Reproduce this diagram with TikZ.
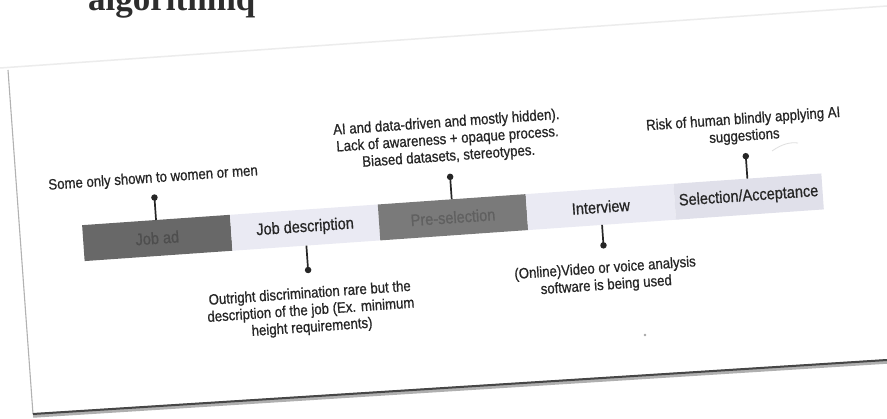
\documentclass[tikz,border=0pt]{standalone}
\usepackage{fontspec}
\newfontfamily\lblfont{Liberation Sans}[FakeStretch=0.88, FakeBold=0.7]
\newfontfamily\titlefont{Liberation Serif}
\definecolor{ink}{RGB}{38,38,38}
\definecolor{titleink}{RGB}{45,45,45}
\definecolor{darkA}{RGB}{104,104,104}
\definecolor{darkAtext}{RGB}{78,78,78}
\definecolor{darkB}{RGB}{122,122,122}
\definecolor{darkBtext}{RGB}{96,96,96}
\definecolor{lightA}{RGB}{234,234,243}
\definecolor{lightB}{RGB}{224,224,234}
\definecolor{edgegray}{RGB}{178,178,178}
\definecolor{faintgray}{RGB}{236,236,236}
\definecolor{shadowdark}{RGB}{70,70,70}
\definecolor{shadowlight}{RGB}{175,175,175}
\tikzset{
  seg/.style={minimum width=148.2pt, minimum height=36pt, inner sep=0pt, outer sep=0pt,
    font=\lblfont\fontsize{16.5}{18}\selectfont},
  darkseg/.style={seg, fill=darkA, text=darkAtext},
  darksegb/.style={seg, fill=darkB, text=darkBtext},
  lightseg/.style={seg, fill=lightA, text=ink},
  lightsegb/.style={seg, fill=lightB, text=ink},
  lbl/.style={font=\lblfont\fontsize{15}{17}\selectfont, align=center, inner sep=0pt, text=ink},
  stem/.style={draw=ink, line width=1.7pt},
  pin/.style={circle, fill=ink, inner sep=0pt, minimum size=6.5pt},
  edgeline/.style={draw=edgegray, line width=1.1pt},
}
\begin{document}
\begin{tikzpicture}[x=1pt, y=-1pt]
\useasboundingbox (0,0) rectangle (887,419);
\clip (0,0) rectangle (887,419);
\fill[white] (0,0) rectangle (887,419);

% page edges
\draw[draw=faintgray, line width=1.5pt] (0,68) -- (887,6);
\draw[edgeline] (8,70) -- (33,414);
\draw[draw=shadowlight, line width=4.5pt] (33,415.5) -- (887,361.5);
\draw[draw=shadowdark, line width=2pt] (33,414) -- (887,360);

% heading (cut off at the top)
\node[anchor=base west, font=\titlefont\bfseries\fontsize{35}{35}\selectfont,
      text=titleink, inner sep=0pt] (title) at (88,11) {algorithmq};

% tiny specks
\fill[gray!70] (645,335) circle (1.3pt);
\draw[gray!25, line width=0.8pt] (772,151) .. controls (782,144) and (790,142) .. (798,143);

\begin{scope}[rotate around={4:(450,225)}, transform shape]
  % timeline segments
  \node[darkseg]   (jobad) at (157.1,217.5) {Job ad};
  \node[lightseg]  (jobdesc) at (305.3,217.5) {Job description};
  \node[darksegb]  (presel) at (453.5,217.5) {Pre-selection};
  \node[lightseg]  (interview) at (601.7,217.5) {Interview};
  \node[lightsegb] (select) at (749.9,217.5) {Selection/Acceptance};

  % pins
  \node[pin] (p1) at (157.1,177) {};
  \node[pin] (p2) at (305.3,260) {};
  \node[pin] (p3) at (453.5,177) {};
  \node[pin] (p4) at (601.7,256) {};
  \node[pin] (p5) at (749.9,177) {};
  \draw[stem] (p1.center) -- (jobad.north);
  \draw[stem] (jobdesc.south) -- (p2.center);
  \draw[stem] (p3.center) -- (presel.north);
  \draw[stem] (interview.south) -- (p4.center);
  \draw[stem] (p5.center) -- (select.north);

  % labels
  \node[lbl] (l1) at (157.1,158) {Some only shown to women or men};
  \node[lbl] (l2) at (305.3,301) {Outright discrimination rare but the\\description of the job (Ex. minimum\\height requirements)};
  \node[lbl] (l3) at (453.5,140) {AI and data-driven and mostly hidden).\\Lack of awareness + opaque process.\\Biased datasets, stereotypes.};
  \node[lbl] (l4) at (601.7,288) {(Online)Video or voice analysis\\software is being used};
  \node[lbl] (l5) at (749.9,149) {Risk of human blindly applying AI\\suggestions};
\end{scope}
\end{tikzpicture}
\end{document}
